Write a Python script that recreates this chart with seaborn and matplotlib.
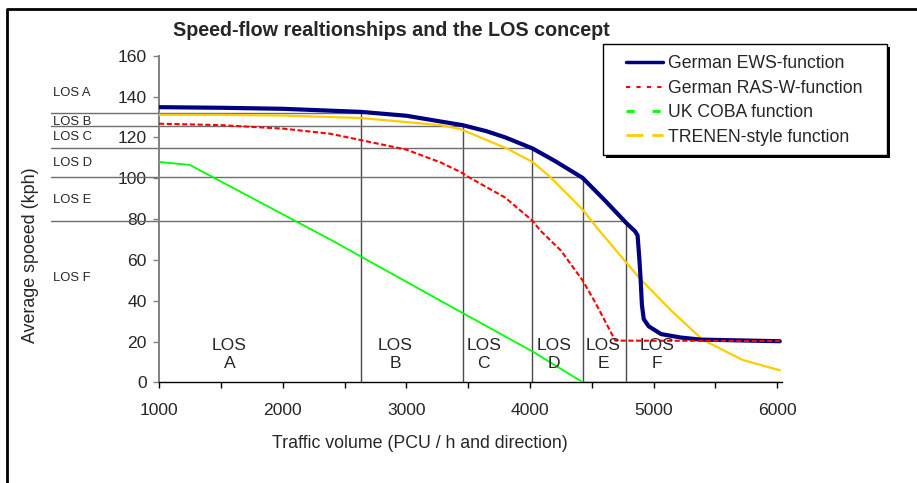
import numpy as np
import pandas as pd
import matplotlib.pyplot as plt
import seaborn as sns
from matplotlib.lines import Line2D
from matplotlib.patches import Rectangle
from matplotlib.ticker import MultipleLocator
from matplotlib import transforms

# speed-flow curves (volume in PCU/h, speed in kph)
ews_vol = [1000, 1500, 2000, 2630, 3000, 3275, 3455, 3650, 3800, 4020, 4200, 4425, 4600,
           4780, 4850, 4870, 4885, 4895, 4905, 4920, 4960, 5060, 5220, 5380, 6020]
ews_speed = [134.8, 134.5, 134.0, 132.5, 130.6, 127.8, 126.0, 123.0, 120.0, 114.6, 108.5, 100.2, 89.5,
             78.0, 74.0, 72.0, 60.0, 50.0, 38.0, 31.0, 27.5, 23.7, 22.0, 21.0, 20.2]

ras_vol = [1000, 1500, 2000, 2385, 2630, 3000, 3275, 3440, 3520, 3800, 4020, 4085,
           4250, 4425, 4520, 4690, 6020]
ras_speed = [126.7, 126.0, 124.3, 121.8, 118.7, 114.0, 107.8, 103.0, 100.0, 90.5, 79.2, 74.3,
             64.6, 50.0, 40.0, 20.5, 20.3]

coba_vol = [1000, 1250, 2400, 3450, 4020, 4430, 6020]
coba_speed = [108.0, 106.5, 69.5, 34.2, 15.2, 0.0, 0.0]

trenen_vol = [1000, 1500, 2000, 2630, 3000, 3275, 3440, 3815, 4020, 4165, 4355, 4430,
              4545, 4775, 4895, 5140, 5395, 5720, 6020]
trenen_speed = [131.0, 131.0, 130.7, 129.5, 127.5, 126.0, 124.0, 114.5, 108.0, 100.5, 89.0, 84.3,
                75.5, 59.0, 50.5, 35.3, 21.0, 11.0, 6.0]

# LOS boundaries (points on the EWS curve)
los_vol = [2630, 3460, 4020, 4430, 4780]
los_speed = [132, 125.5, 115, 100.5, 79.2]
los_names = ["A", "B", "C", "D", "E", "F"]
los_label_vol = [1570, 2911, 3626, 4193, 4590, 5030]
los_side_speed = [141.5, 127.4, 120.0, 107.6, 89.2, 51.3]

sns.set_style("white")
plt.rcParams["font.family"] = ["Liberation Sans", "DejaVu Sans"]

fig = plt.figure(figsize=(9.17, 4.83), dpi=100)
ax = fig.add_axes([0.1734, 0.2081, 0.6790, 0.6766])
ax.set_xlim(1000, 6035)
ax.set_ylim(0, 160)

# LOS grid: horizontal lines reach out to the left margin
x_left = ax.transData.inverted().transform(fig.transFigure.transform((0.0553, 0)))[0]
for v, s in zip(los_vol, los_speed):
    ax.plot([x_left, v], [s, s], color="#6e6e6e", lw=1.0, clip_on=False, zorder=1)
    ax.plot([v, v], [0, s], color="#4a4a4a", lw=1.0, zorder=1)

sns.lineplot(x=coba_vol, y=coba_speed, ax=ax, color="#00ff00", lw=1.3, estimator=None, zorder=3)
sns.lineplot(x=trenen_vol, y=trenen_speed, ax=ax, color="#ffcc00", lw=1.6, estimator=None, zorder=3)
sns.lineplot(x=ews_vol, y=ews_speed, ax=ax, color="#000080", lw=3.0, estimator=None, zorder=4)
sns.lineplot(x=ras_vol, y=ras_speed, ax=ax, color="#ff0000", lw=1.5,
             linestyle=(0, (2.5, 1.2)), estimator=None, zorder=5)

# axes styling
for side in ["top", "right"]:
    ax.spines[side].set_visible(False)
ax.spines["left"].set_color("#808080")
ax.spines["left"].set_linewidth(1.4)
ax.spines["bottom"].set_color("black")
ax.spines["bottom"].set_linewidth(1.0)
ax.xaxis.set_major_locator(MultipleLocator(1000))
ax.xaxis.set_minor_locator(MultipleLocator(500))
ax.yaxis.set_major_locator(MultipleLocator(20))
ax.tick_params(axis="x", which="both", direction="out", length=4, width=1, color="black",
               labelsize=12.6, pad=11, bottom=True)
ax.tick_params(axis="y", direction="out", length=4, width=1, color="#808080",
               labelsize=12.6, pad=5, left=True)
ax.set_xticks([1000, 2000, 3000, 4000, 5000, 6000])
ax.set_xlabel("")
ax.set_ylabel("")

fig.text(420 / 917, 1 - 443 / 483, "Traffic volume (PCU / h and direction)",
         ha="center", va="center", fontsize=12.8)
fig.text(31 / 917, 1 - 255 / 483, "Average spoeed (kph)", rotation=90,
         ha="center", va="center", fontsize=12.9)
fig.text(391 / 917, 1 - 31 / 483, "Speed-flow realtionships and the LOS concept",
         ha="center", va="center", fontsize=14.2, fontweight="bold")

# LOS labels on the left margin
side = transforms.blended_transform_factory(fig.transFigure, ax.transData)
for name, s in zip(los_names, los_side_speed):
    ax.text(53.3 / 917, s, f"LOS {name}", transform=side, fontsize=9.4,
            ha="left", va="center", clip_on=False)

# LOS labels inside the plot
for name, v in zip(los_names, los_label_vol):
    ax.text(v, 13.8, f"LOS\n{name}", ha="center", va="center", fontsize=12.6,
            linespacing=1.2, zorder=6)

# legend box with a hard black shadow, drawn in figure pixels
W, H = 917, 483
bx0, bx1, by0, by1 = 603, 887, 44, 155
fig.add_artist(Rectangle(((bx0 + 3) / W, 1 - (by1 + 3) / H), (bx1 - bx0) / W, (by1 - by0) / H,
                         transform=fig.transFigure, facecolor="black", edgecolor="none", zorder=9))
fig.add_artist(Rectangle((bx0 / W, 1 - by1 / H), (bx1 - bx0) / W, (by1 - by0) / H,
                         transform=fig.transFigure, facecolor="white", edgecolor="black",
                         lw=1.0, zorder=10))

handles = [
    Line2D([], [], color="#000080", lw=2.5),
    Line2D([], [], color="#ff0000", lw=1.5, linestyle=(0, (2, 3))),
    Line2D([], [], color="#00ff00", lw=2.0, linestyle=(0, (2.9, 6.5))),
    Line2D([], [], color="#ffcc00", lw=2.0, linestyle=(0, (6.1, 3.2))),
]
labels = ["German EWS-function", "German RAS-W-function", "UK COBA function",
          "TRENEN-style function"]
leg = fig.legend(handles, labels, loc="center left", bbox_to_anchor=(626 / W, 1 - 100.5 / H),
                 fontsize=12.7, frameon=False, handlelength=2.08, handletextpad=0.28,
                 borderpad=0, labelspacing=0.42, borderaxespad=0)
leg.set_zorder(11)

# outer chart border
fig.add_artist(Line2D([7 / W, 7 / W, 1.01], [-0.01, 1 - 9 / H, 1 - 9 / H],
                      transform=fig.transFigure, color="black", lw=2.0))

fig.savefig("out.png", dpi=100)
